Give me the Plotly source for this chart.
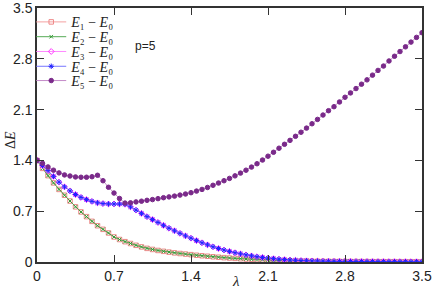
import plotly.graph_objects as go

lam = [0.00, 0.05, 0.10, 0.15, 0.20, 0.25, 0.30, 0.35, 0.40, 0.45,
       0.50, 0.55, 0.60, 0.65, 0.70, 0.75, 0.80, 0.85, 0.90, 0.95,
       1.00, 1.05, 1.10, 1.15, 1.20, 1.25, 1.30, 1.35, 1.40, 1.45,
       1.50, 1.55, 1.60, 1.65, 1.70, 1.75, 1.80, 1.85, 1.90, 1.95,
       2.00, 2.05, 2.10, 2.15, 2.20, 2.25, 2.30, 2.35, 2.40, 2.45,
       2.50, 2.55, 2.60, 2.65, 2.70, 2.75, 2.80, 2.85, 2.90, 2.95,
       3.00, 3.05, 3.10, 3.15, 3.20, 3.25, 3.30, 3.35, 3.40, 3.45, 3.50]

e1 = [1.40, 1.29, 1.19, 1.09, 1.00, 0.92, 0.84, 0.76, 0.69, 0.625,
      0.56, 0.50, 0.45, 0.40, 0.345, 0.31, 0.28, 0.255, 0.23, 0.208,
      0.188, 0.173, 0.159, 0.147, 0.136, 0.126, 0.117, 0.109, 0.101, 0.093,
      0.086, 0.079, 0.072, 0.066, 0.060, 0.055, 0.050, 0.045, 0.041, 0.037,
      0.033, 0.030, 0.027, 0.024, 0.021, 0.019, 0.017, 0.015, 0.013, 0.012,
      0.011, 0.010, 0.0095, 0.009, 0.0085, 0.008, 0.0075, 0.007, 0.0067, 0.0064,
      0.006, 0.0057, 0.0054, 0.0052, 0.005, 0.0048, 0.0046, 0.0044, 0.0042, 0.004, 0.0039]

e2 = [1.40, 1.29, 1.19, 1.09, 1.00, 0.92, 0.84, 0.76, 0.69, 0.625,
      0.56, 0.50, 0.45, 0.40, 0.345, 0.31, 0.28, 0.255, 0.23, 0.208,
      0.188, 0.173, 0.159, 0.147, 0.136, 0.126, 0.117, 0.109, 0.101, 0.093,
      0.086, 0.079, 0.072, 0.066, 0.060, 0.055, 0.050, 0.045, 0.041, 0.037,
      0.033, 0.030, 0.027, 0.024, 0.021, 0.019, 0.017, 0.015, 0.013, 0.012,
      0.011, 0.010, 0.0095, 0.009, 0.0085, 0.008, 0.0075, 0.007, 0.0067, 0.0064,
      0.006, 0.0057, 0.0054, 0.0052, 0.005, 0.0048, 0.0046, 0.0044, 0.0042, 0.004, 0.0039]

e3 = [1.40, 1.33, 1.26, 1.18, 1.10, 1.035, 0.98, 0.93, 0.89, 0.86,
      0.835, 0.815, 0.805, 0.80, 0.80, 0.80, 0.795, 0.76, 0.715, 0.67,
      0.625, 0.585, 0.545, 0.505, 0.465, 0.43, 0.395, 0.36, 0.328, 0.295,
      0.265, 0.237, 0.21, 0.186, 0.165, 0.146, 0.128, 0.112, 0.098, 0.085,
      0.073, 0.063, 0.054, 0.046, 0.039, 0.033, 0.028, 0.024, 0.020, 0.017,
      0.015, 0.013, 0.011, 0.010, 0.009, 0.0085, 0.008, 0.0075, 0.007, 0.0066,
      0.0062, 0.0058, 0.0055, 0.0052, 0.005, 0.0048, 0.0046, 0.0044, 0.0042, 0.004, 0.0039]

e4 = [1.40, 1.33, 1.26, 1.18, 1.10, 1.035, 0.98, 0.93, 0.89, 0.86,
      0.835, 0.815, 0.805, 0.80, 0.80, 0.80, 0.795, 0.76, 0.715, 0.67,
      0.625, 0.585, 0.545, 0.505, 0.465, 0.43, 0.395, 0.36, 0.328, 0.295,
      0.265, 0.237, 0.21, 0.186, 0.165, 0.146, 0.128, 0.112, 0.098, 0.085,
      0.073, 0.063, 0.054, 0.046, 0.039, 0.033, 0.028, 0.024, 0.020, 0.017,
      0.015, 0.013, 0.011, 0.010, 0.009, 0.0085, 0.008, 0.0075, 0.007, 0.0066,
      0.0062, 0.0058, 0.0055, 0.0052, 0.005, 0.0048, 0.0046, 0.0044, 0.0042, 0.004, 0.0039]

e5 = [1.40, 1.36, 1.31, 1.265, 1.228, 1.20, 1.185, 1.172, 1.168, 1.168,
      1.175, 1.195, 1.12, 1.03, 0.95, 0.875, 0.812, 0.815, 0.828, 0.838,
      0.85, 0.86, 0.873, 0.886, 0.897, 0.908, 0.922, 0.937, 0.955, 0.977,
      1.00, 1.027, 1.057, 1.088, 1.12, 1.152, 1.187, 1.225, 1.265, 1.308,
      1.354, 1.405, 1.458, 1.512, 1.568, 1.622, 1.676, 1.732, 1.788, 1.845,
      1.905, 1.965, 2.025, 2.085, 2.14, 2.205, 2.27, 2.33, 2.39, 2.45,
      2.51, 2.575, 2.64, 2.70, 2.77, 2.835, 2.90, 2.965, 3.03, 3.095, 3.16]

ticks = [0, 0.7, 1.4, 2.1, 2.8, 3.5]
tick_text = ["0", "0.7", "1.4", "2.1", "2.8", "3.5"]

series = [
    ("<i>E</i>₁ − <i>E</i>₀", e1, "#f4a0a0", "#ee8888", "square-open", 4.5),
    ("<i>E</i>₂ − <i>E</i>₀", e2, "#55aa55", "#339933", "x-thin-open", 3.5),
    ("<i>E</i>₃ − <i>E</i>₀", e3, "#ff88ff", "#ff33ff", "diamond-open", 4.5),
    ("<i>E</i>₄ − <i>E</i>₀", e4, "#7777ff", "#2222ff", "asterisk-open", 4.5),
    ("<i>E</i>₅ − <i>E</i>₀", e5, "#c48ac8", "#7a2a8a", "circle", 4.5),
]
legend_y = [0.94, 0.882, 0.824, 0.766, 0.71]

fig = go.Figure()
layout_legends = {}
for i, (name, ys, lc, mc, sym, sz) in enumerate(series):
    lname = "legend" if i == 0 else f"legend{i + 1}"
    fig.add_trace(go.Scatter(
        x=lam, y=ys, mode="lines+markers", name=name, legend=lname,
        line=dict(color=lc, width=1),
        marker=dict(symbol=sym, size=sz, color=mc, line=dict(color=mc, width=1)),
    ))
    layout_legends[lname] = dict(
        x=-0.015, y=legend_y[i], xanchor="left", yanchor="middle",
        bgcolor="rgba(0,0,0,0)", itemwidth=30,
        font=dict(family="Liberation Serif, serif", size=14, color="#222222"))

axis_common = dict(
    range=[0, 3.5], tickvals=ticks, ticktext=tick_text, automargin=False,
    ticklabeloverflow="allow",
    ticks="inside", ticklen=7, tickwidth=1.3, tickcolor="#333333",
    showline=True, linecolor="#333333", linewidth=1.5, mirror="ticks",
    showgrid=False, zeroline=False,
    tickfont=dict(family="Liberation Sans, Arial, sans-serif", size=14, color="#222222"),
)

fig.update_layout(
    width=436, height=289,
    margin=dict(l=37, r=14, t=7, b=27),
    paper_bgcolor="white", plot_bgcolor="white",
    xaxis=dict(**axis_common),
    yaxis=dict(**axis_common),
    showlegend=True,
    annotations=[
        dict(text="p=5", x=0.25, y=0.85, xref="paper", yref="paper",
             xanchor="left", yanchor="middle", showarrow=False,
             font=dict(family="Liberation Sans, Arial, sans-serif", size=12, color="#222222")),
        dict(text="<i>λ</i>", x=0.517, y=0, xref="paper", yref="paper",
             xanchor="center", yanchor="top", yshift=-9, showarrow=False,
             font=dict(family="Liberation Serif, serif", size=15, color="#222222")),
        dict(text="Δ<i>E</i>", x=0, y=0.48, xref="paper", yref="paper",
             xanchor="center", yanchor="middle", xshift=-27, textangle=-90, showarrow=False,
             font=dict(family="Liberation Serif, serif", size=14, color="#222222")),
    ],
    **layout_legends,
)

fig.write_html("out.html", config={"displayModeBar": False},
               post_script="document.body.style.margin='0';document.body.style.overflow='hidden';")
